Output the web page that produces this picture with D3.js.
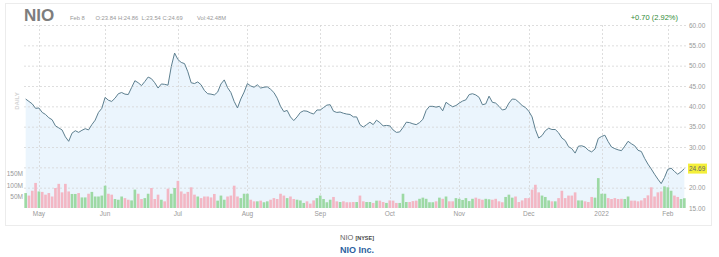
<!DOCTYPE html>
<html><head><meta charset="utf-8">
<script src="https://cdn.jsdelivr.net/npm/d3@7"></script>
<style>body{margin:0;background:#fff;} svg{display:block;font-family:"Liberation Sans",Arial,sans-serif;}</style>
</head><body><svg id="c" width="719" height="257"></svg>
<script>
// ---- data ----
const startDate = "2021-04-27", endDate = "2022-02-08";
const holidays = ["2021-05-31","2021-07-05","2021-09-06","2021-11-25","2021-12-24","2022-01-17"];
const closes = [
41.8,41.2,40.6,39.5,39.6,38.5,38.0,37.2,36.7,35.2,
34.7,34.2,32.5,31.4,33.4,34.0,33.6,34.1,34.5,34.2,
35.5,36.6,38.5,39.5,42.2,41.5,41.2,42.0,43.1,43.4,
43.0,42.9,44.6,46.3,45.8,45.1,46.1,47.2,46.8,45.8,
44.5,45.5,45.4,45.2,49.8,53.1,51.5,50.8,50.5,48.5,
45.8,45.6,46.0,45.3,43.9,43.1,43.0,42.8,43.5,45.5,
46.5,44.6,43.4,41.2,39.6,41.8,43.5,45.6,45.0,44.7,
45.3,44.5,44.7,44.8,44.2,43.4,42.0,40.0,38.7,39.0,
37.4,36.5,37.4,38.5,38.9,38.8,38.4,38.1,39.1,39.1,
39.7,40.3,40.4,38.8,38.5,38.6,38.3,38.1,38.0,37.4,
37.4,35.5,34.9,35.5,36.1,35.5,36.6,36.0,35.2,35.3,
35.2,34.2,33.6,33.7,34.8,36.1,36.0,35.7,35.5,36.0,
36.8,39.0,40.0,40.0,39.8,40.0,38.9,41.0,40.4,39.9,
40.2,40.8,41.3,41.6,42.9,43.1,42.8,42.2,40.4,40.6,
42.5,41.0,40.8,40.0,39.1,39.3,40.8,41.8,41.7,41.0,
40.2,39.7,38.8,37.4,34.3,32.2,32.8,34.0,34.6,34.3,
34.3,33.5,32.2,31.6,30.1,29.6,28.5,30.2,30.3,30.0,
29.2,28.8,29.5,32.1,32.6,32.9,31.3,30.0,29.6,29.3,
29.1,30.2,31.4,30.8,30.3,29.2,28.9,27.2,25.8,24.6,
23.3,22.1,21.0,22.5,24.5,24.8,24.0,23.3,23.9,24.69];
const volumes = [
65,54,75,109,72,70,58,65,50,87,
105,68,105,72,61,61,65,46,46,62,
70,50,50,54,97,62,58,39,36,50,
43,36,33,80,62,39,43,62,87,39,
58,36,29,84,62,87,118,72,62,70,
90,58,50,43,50,50,46,61,32,54,
36,50,54,97,50,43,62,62,36,29,
29,32,25,29,36,43,39,62,54,43,
50,39,36,33,22,29,19,33,43,54,
39,25,36,48,29,26,29,25,25,26,
26,54,29,26,26,22,32,32,26,22,
33,32,22,22,62,26,26,30,32,40,
45,40,25,25,29,45,40,50,29,29,
43,40,35,43,30,40,45,40,36,40,
38,36,40,29,25,48,58,45,50,26,
33,43,43,80,101,68,54,48,33,29,
29,43,75,43,54,54,68,33,33,29,
26,48,45,130,62,62,43,39,43,39,
40,39,50,32,32,29,33,43,55,90,
50,68,72,94,90,75,54,48,39,42.48];
const monthLabels = ["May","Jun","Jul","Aug","Sep","Oct","Nov","Dec","2022","Feb"];
const priceTicks = [15,20,25,30,35,40,45,50,55,60];
const volumeTicks = [50,100,150];
const symbol = "NIO", exchange = "[NYSE]", company = "NIO Inc.";
const infoItems = ["Feb 8","O:23.84","H:24.86","L:23.54","C:24.69","Vol:42.48M"];
const changeText = "+0.70 (2.92%)";
const lastLabel = "24.69";

// ---- dates ----
const parse = d3.utcParse("%Y-%m-%d"), fmt = d3.utcFormat("%Y-%m-%d");
const hol = new Set(holidays);
let dates = d3.utcDay.range(parse(startDate), d3.utcDay.offset(parse(endDate),1))
  .filter(d => d.getUTCDay()>0 && d.getUTCDay()<6 && !hol.has(fmt(d)));
dates = dates.slice(dates.length - closes.length);

const svg = d3.select("#c");
const L=24, R=686, T=25, B=208;
const x = d3.scaleBand().domain(dates).range([L,R]).paddingInner(0.2).paddingOuter(0.1);
const bw = x.bandwidth();
const cx = d => x(d)+bw/2;
const yP = d3.scaleLinear().domain([15,60]).range([B,T]);
const yV = d3.scaleLinear().domain([0,150]).range([B,173.5]);

// frame
svg.append("rect").attr("x",5.5).attr("y",3.5).attr("width",706).attr("height",222)
  .attr("fill","none").attr("stroke","#ececec");

// month starts
const monthStarts = d3.groups(dates, d=>d3.utcFormat("%Y-%m")(d)).map(g=>g[1][0]).slice(1);

// area + line
const area = d3.area().x((d,i)=>cx(dates[i])).y0(B).y1(d=>yP(d));
svg.append("path").datum(closes).attr("d",area).attr("fill","#ebf5fd");

// gridlines
const grid = svg.append("g").attr("stroke","#d6d6d6").attr("stroke-dasharray","2,2").attr("stroke-width",0.8);
grid.selectAll("line.h").data(priceTicks.filter(t=>t>15)).join("line")
  .attr("x1",L).attr("x2",R).attr("y1",d=>yP(d)+0.5).attr("y2",d=>yP(d)+0.5);
grid.selectAll("line.v").data(monthStarts).join("line")
  .attr("x1",d=>Math.round(cx(d))+0.5).attr("x2",d=>Math.round(cx(d))+0.5).attr("y1",T).attr("y2",B);

// volume bars
svg.append("g").selectAll("rect").data(volumes).join("rect")
  .attr("x",(d,i)=>x(dates[i])).attr("width",bw)
  .attr("y",d=>yV(d)).attr("height",d=>B-yV(d))
  .attr("fill",(d,i)=> (i===0 || closes[i]>=closes[i-1]) ? "#9dd9a4" : "#f3b7c4");

svg.append("path").datum(closes)
  .attr("d", d3.line().x((d,i)=>cx(dates[i])).y(d=>yP(d)))
  .attr("fill","none").attr("stroke","#5d7f8f").attr("stroke-width",1);

// price axis
const ay = svg.append("g").attr("transform",`translate(689,0)`)
  .call(d3.axisRight(yP).tickValues(priceTicks.filter(t=>t!==25)).tickSize(0).tickPadding(0).tickFormat(d3.format(".2f")));
ay.select(".domain").remove();
ay.selectAll("text").attr("fill","#999").attr("font-size","6.5px").attr("font-family","Liberation Sans, Arial, sans-serif");

// last price highlight
const ly = yP(closes[closes.length-1]);
svg.append("rect").attr("x",688).attr("y",ly-5).attr("width",19).attr("height",10).attr("fill","#f4ef3a");
svg.append("text").attr("x",689).attr("y",ly).attr("dy","0.32em").attr("font-size","6.5px").attr("fill","#666").text(lastLabel);

// volume axis
const av = svg.append("g").attr("transform",`translate(23,0)`)
  .call(d3.axisLeft(yV).tickValues(volumeTicks).tickSize(0).tickPadding(0).tickFormat(d=>d+"M"));
av.select(".domain").remove();
av.selectAll("text").attr("fill","#999").attr("font-size","6.5px").attr("font-family","Liberation Sans, Arial, sans-serif");

// month axis
const ax = svg.append("g").attr("transform",`translate(0,${B+3})`)
  .call(d3.axisBottom(x).tickValues(monthStarts).tickSize(0).tickPadding(0).tickFormat((d,i)=>monthLabels[i]));
ax.select(".domain").remove();
ax.selectAll("text").attr("fill","#999").attr("font-size","6.5px").attr("font-family","Liberation Sans, Arial, sans-serif");

// DAILY
svg.append("text").attr("transform","translate(19,101) rotate(-90)").attr("text-anchor","middle")
  .attr("font-size","6px").attr("font-weight","bold").attr("fill","#d3d3d3").text("DAILY");

// header
svg.append("text").attr("x",24).attr("y",20.5).attr("font-size","17px").attr("font-weight","bold")
  .attr("fill","#7d7d7d").text(symbol);
const infoX = [70,95.5,118,141.5,162.5,197];
svg.append("g").selectAll("text").data(infoItems).join("text")
  .attr("x",(d,i)=>infoX[i]).attr("y",19.5).attr("font-size","5.8px").attr("fill","#999").text(d=>d);
svg.append("text").attr("x",678).attr("y",19.5).attr("text-anchor","end").attr("font-size","7.5px")
  .attr("fill","#2f8a36").text(changeText);

// footer
const ft = svg.append("text").attr("x",357).attr("y",240).attr("text-anchor","middle");
ft.append("tspan").attr("font-size","7.5px").attr("fill","#666").text(symbol+"  ");
ft.append("tspan").attr("font-size","5.5px").attr("font-weight","bold").attr("fill","#444").text(exchange);
svg.append("text").attr("x",357).attr("y",252.5).attr("text-anchor","middle").attr("font-size","9px")
  .attr("font-weight","bold").attr("fill","#2d5fa0").text(company);
</script></body></html>
